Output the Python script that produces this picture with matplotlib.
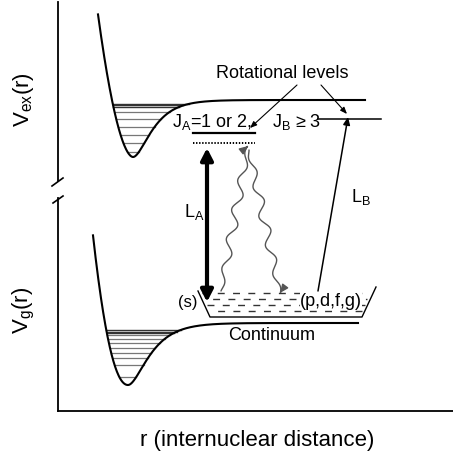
import numpy as np
import matplotlib
matplotlib.use("Agg")
import matplotlib.pyplot as plt
from matplotlib.patches import FancyArrowPatch
from matplotlib.path import Path

plt.rcParams['font.family'] = ['Liberation Sans', 'DejaVu Sans']
plt.rcParams['mathtext.fontset'] = 'custom'
plt.rcParams['mathtext.rm'] = 'Liberation Sans'
plt.rcParams['mathtext.it'] = 'Liberation Sans'
plt.rcParams['mathtext.bf'] = 'Liberation Sans:bold'
plt.rcParams['lines.scale_dashes'] = False

W, H = 453, 461  # diagram canvas (r to the right, energy downward in canvas units)

# Potential wells: position of minimum, bottom, dissociation asymptote,
# left-wall power law (k, p), right-side Morse steepness, drawn r-range
ex_well = dict(r0=133, bottom=157, asym=100, k_left=0.237, p_left=1.8,
               a_right=0.060, r_start=98, r_end=365)
g_well = dict(r0=128, bottom=385, asym=323, k_left=0.0856, p_left=2.1,
              a_right=0.054, r_start=93, r_end=358)

# Vibrational levels inside each well (canvas energy coordinate)
ex_levels = [104, 105.5, 107, 112, 119, 127, 135, 143, 152]
g_levels = [330, 331.5, 333, 335, 339, 343, 348, 353, 358, 365, 377]

# Rotational levels of the excited state
JA_level = dict(y=133, r=(193, 255))
JA_virtual = dict(y=143, r=(193, 255))
JB_level = dict(y=119, r=(318, 381))

# Continuum box (s, p, d, f, g partial waves)
cont_top = (291, 287)       # top of left / right edges
cont_bottom = 317
cont_left = (198, 210)      # left edge: top r, bottom r
cont_right = (376, 362)     # right edge: top r, bottom r
cont_rows = [293, 299, 305, 311]

# Transitions
LA_arrow = dict(r=207, y_top=148, y_bot=302)
LB_arrow = dict(start=(318, 291), end=(348, 117))
wavy_up = dict(start=(221, 291), end=(248, 146))
wavy_down = dict(start=(249, 150), end=(280, 293))
rot_pointers = [((297, 85), (250, 128)), ((321, 85), (347, 114))]


def potential(w, r):
    D = w['bottom'] - w['asym']
    dx = r - w['r0']
    left = -D + w['k_left'] * np.abs(dx) ** w['p_left']
    right = D * (1 - np.exp(-w['a_right'] * dx)) ** 2 - D
    E = np.where(dx < 0, left, right)
    return w['asym'] - E


def level_span(w, y):
    D = w['bottom'] - w['asym']
    E = w['asym'] - y
    f = (E + D)
    xl = w['r0'] - (f / w['k_left']) ** (1 / w['p_left'])
    xr = w['r0'] - np.log(1 - np.sqrt(f / D)) / w['a_right']
    return xl, xr


fig = plt.figure(figsize=(W / 100, H / 100), dpi=100)
ax = fig.add_axes([0, 0, 1, 1])
ax.set_xlim(0, W)
ax.set_ylim(H, 0)
ax.axis('off')

# Frame: energy axis with a break, and r axis
ax.plot([58, 58], [2, 181], color='black', lw=1.3)
ax.plot([58, 58], [198, 411], color='black', lw=1.3)
ax.plot([58, W], [411, 411], color='black', lw=1.3)
ax.plot([52, 63], [186, 178], color='black', lw=1.2)
ax.plot([53, 63], [203, 196], color='black', lw=1.2)

# Potential curves and vibrational levels
for w, levels in ((ex_well, ex_levels), (g_well, g_levels)):
    r = np.linspace(w['r_start'], w['r_end'], 600)
    ax.plot(r, potential(w, r), color='black', lw=1.5, zorder=3)
    for i, y in enumerate(levels):
        xl, xr = level_span(w, y)
        dark = i < 3
        ax.plot([xl, xr], [y, y], color='#333333' if dark else '#777777',
                lw=1.0 if dark else 0.9, zorder=2)

# Rotational levels
ax.plot(JA_level['r'], [JA_level['y']] * 2, color='black', lw=1.6)
ax.plot(JA_virtual['r'], [JA_virtual['y']] * 2, color='black', lw=1.4,
        linestyle=(0, (1.0, 1.2)))
ax.plot(JB_level['r'], [JB_level['y']] * 2, color='black', lw=1.1)

# Continuum box
ax.plot([cont_left[0], cont_left[1], cont_right[1], cont_right[0]],
        [cont_top[0], cont_bottom, cont_bottom, cont_top[1]],
        color='black', lw=1.0, zorder=2)
for i, y in enumerate(cont_rows):
    t_l = (y - cont_top[0]) / (cont_bottom - cont_top[0])
    t_r = (y - cont_top[1]) / (cont_bottom - cont_top[1])
    xl = cont_left[0] + t_l * (cont_left[1] - cont_left[0]) + 3
    xr = cont_right[0] + t_r * (cont_right[1] - cont_right[0]) - 3
    ax.plot([xl, xr], [y, y], color='#333333', lw=1.0,
            linestyle=(i * 5.5 % 11, (5.0, 6.0)), zorder=2)

# L_A: thick double-headed arrow
ax.add_patch(FancyArrowPatch((LA_arrow['r'], LA_arrow['y_bot']),
                             (LA_arrow['r'], LA_arrow['y_top']),
                             arrowstyle='<|-|>,head_length=7,head_width=3.6',
                             mutation_scale=1, lw=3.0, color='black',
                             shrinkA=0, shrinkB=0, zorder=5))

# L_B: thin arrow to the J_B level
ax.add_patch(FancyArrowPatch(LB_arrow['start'], LB_arrow['end'],
                             arrowstyle='-|>,head_length=4.5,head_width=2',
                             mutation_scale=1, lw=1.1, color='black',
                             shrinkA=0, shrinkB=0, zorder=5))

# Pointers from the "Rotational levels" caption
for a, b in rot_pointers:
    ax.add_patch(FancyArrowPatch(a, b,
                                 arrowstyle='-|>,head_length=4,head_width=1.6',
                                 mutation_scale=1, lw=0.8, color='black',
                                 shrinkA=0, shrinkB=0, zorder=5))


def wavy_path(start, end, amp=4.5, wavelength=30.0):
    p0, p1 = np.array(start, float), np.array(end, float)
    d = p1 - p0
    L = np.hypot(*d)
    n = np.array([-d[1], d[0]]) / L
    t = np.linspace(0, 1, 300)
    env = np.sin(np.pi * t) ** 0.4
    off = amp * env * np.sin(2 * np.pi * L * t / wavelength)
    pts = p0[None, :] + t[:, None] * d[None, :] + off[:, None] * n[None, :]
    return Path(pts)


for wv in (wavy_up, wavy_down):
    ax.add_patch(FancyArrowPatch(path=wavy_path(wv['start'], wv['end']),
                                 arrowstyle='-|>,head_length=5,head_width=2.2',
                                 mutation_scale=1, lw=1.0, color='#555555',
                                 zorder=4))

# Text
ax.text(24, 100, r'$\mathregular{V_{ex}(r)}$', rotation=90, fontsize=16,
        ha='center', va='center')
ax.text(24, 310, r'$\mathregular{V_{g}(r)}$', rotation=90, fontsize=16,
        ha='center', va='center')
ax.text(257, 440, 'r (internuclear distance)', fontsize=16,
        ha='center', va='center')
ax.text(282, 73, 'Rotational levels', fontsize=13, ha='center', va='center')
ax.text(172, 122, r'$\mathregular{J_A}$=1 or 2,', fontsize=13,
        ha='left', va='center')
ax.text(272, 122, r'$\mathregular{J_B}$ ≥ 3', fontsize=13,
        ha='left', va='center')
ax.text(194, 212, r'$\mathregular{L_A}$', fontsize=13, ha='center', va='center')
ax.text(361, 197, r'$\mathregular{L_B}$', fontsize=13, ha='center', va='center')
ax.text(188, 302, '(s)', fontsize=12, ha='center', va='center',
        bbox=dict(facecolor='white', edgecolor='none', pad=0.3), zorder=3)
ax.text(331, 301, '(p,d,f,g)', fontsize=13, ha='center', va='center',
        bbox=dict(facecolor='white', edgecolor='none', pad=0.3), zorder=3)
ax.text(272, 335, 'Continuum', fontsize=13, ha='center', va='center')

fig.savefig('out.png', dpi=100)
